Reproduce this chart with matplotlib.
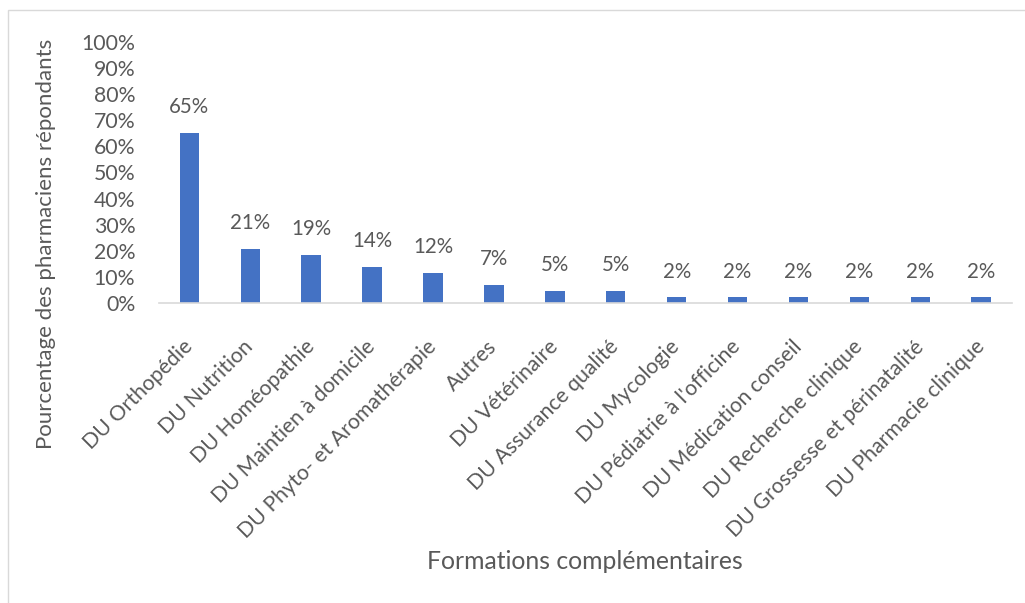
import matplotlib.pyplot as plt
from matplotlib.patches import Rectangle
from matplotlib.ticker import PercentFormatter
from matplotlib.transforms import ScaledTranslation

plt.rcParams['font.family'] = ['Lato', 'DejaVu Sans']

# données
formations = ["DU Orthopédie", "DU Nutrition", "DU Homéopathie", "DU Maintien à domicile",
              "DU Phyto- et Aromathérapie", "Autres", "DU Vétérinaire", "DU Assurance qualité",
              "DU Mycologie", "DU Pédiatrie à l'officine", "DU Médication conseil",
              "DU Recherche clinique", "DU Grossesse et périnatalité", "DU Pharmacie clinique"]
pourcentages = [65.1, 20.9, 18.6, 14.0, 11.6, 7.0, 4.7, 4.7, 2.3, 2.3, 2.3, 2.3, 2.3, 2.3]
etiquettes = ["65%", "21%", "19%", "14%", "12%", "7%", "5%", "5%", "2%", "2%", "2%", "2%", "2%", "2%"]

GRIS = '#595959'
BLEU = '#4472C4'

fig = plt.figure(figsize=(10.25, 6.03), dpi=100)
ax = fig.add_axes([0.155, 0.497, 0.832, 0.434])

x = range(len(formations))
ax.bar(x, pourcentages, width=0.32, color=BLEU)
for i in x:
    ax.text(i, pourcentages[i] + 6, etiquettes[i], ha='center', va='bottom', fontsize=14.8, color=GRIS)

ax.set_xlim(-0.5, len(formations) - 0.5)
ax.set_ylim(0, 100)
ax.set_yticks(range(0, 101, 10))
ax.yaxis.set_major_formatter(PercentFormatter(decimals=0))
ax.set_xticks(list(x))
ax.set_xticklabels(formations, rotation=45, ha='right', va='center', rotation_mode='anchor')
# petit décalage vers la gauche des étiquettes
decal = ScaledTranslation(-6 / 100, 0, fig.dpi_scale_trans)
for lab in ax.get_xticklabels():
    lab.set_transform(lab.get_transform() + decal)

for s in ['top', 'right', 'left']:
    ax.spines[s].set_visible(False)
ax.spines['bottom'].set_color('#D9D9D9')
ax.spines['bottom'].set_linewidth(1.2)
ax.tick_params(axis='both', length=0, labelsize=15.3, colors=GRIS)
ax.tick_params(axis='x', pad=29)
ax.tick_params(axis='y', pad=17)

fig.text(0.0445, 0.595, "Pourcentage des pharmaciens répondants", rotation=90,
         ha='center', va='center', fontsize=16, color=GRIS)
fig.text(0.5705, 0.068, "Formations complémentaires", ha='center', va='center',
         fontsize=17.8, color=GRIS)

# cadre
fig.patches.append(Rectangle((0.008, -0.05), 1.1, 1.034, transform=fig.transFigure,
                             fill=False, edgecolor='#D9D9D9', linewidth=1))

fig.savefig('out.png', dpi=100)
